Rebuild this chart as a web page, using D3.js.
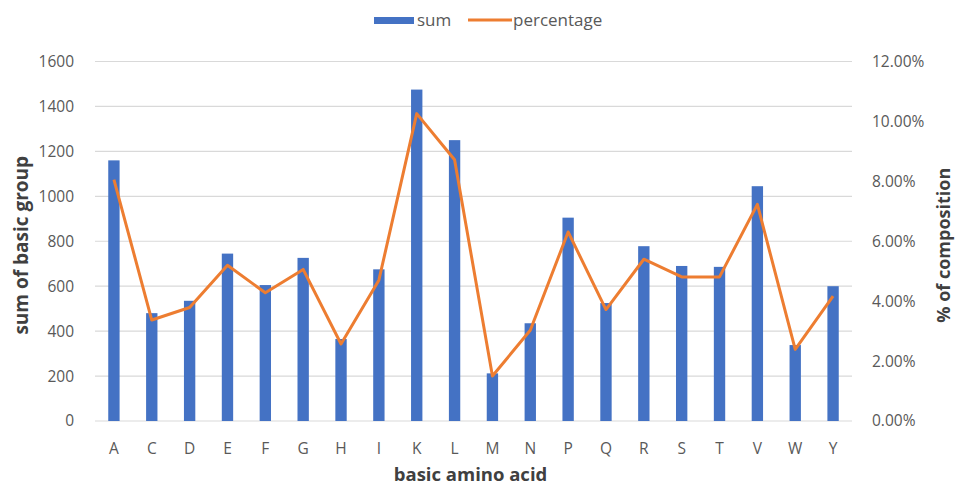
<!DOCTYPE html>
<html>
<head>
<meta charset="utf-8">
<script src="https://cdn.jsdelivr.net/npm/d3@7"></script>
<style>
  body { margin: 0; background: #fff; }
  svg text { font-family: "Open Sans", "Liberation Sans", sans-serif; }
  .axis path { display: none; }
  .axis line { stroke: none; }
  .axis text { fill: #595959; font-size: 15.5px; }
</style>
</head>
<body>
<div id="chart"></div>
<script>
// 資料
const acids = ['A','C','D','E','F','G','H','I','K','L','M','N','P','Q','R','S','T','V','W','Y'];
const sums = [1160, 480, 535, 745, 605, 726, 365, 675, 1475, 1250, 212, 435, 905, 525, 778, 690, 686, 1045, 338, 600];
const percents = [8.06, 3.37, 3.79, 5.2, 4.28, 5.06, 2.57, 4.7, 10.26, 8.72, 1.5, 3.03, 6.31, 3.72, 5.4, 4.81, 4.81, 7.23, 2.39, 4.17];
const leftTicks = [0, 200, 400, 600, 800, 1000, 1200, 1400, 1600];
const rightTicks = [0, 2, 4, 6, 8, 10, 12];

const svg_width = 957, svg_height = 488;
const margin = {top: 61.5, right: 105, bottom: 67, left: 95};
const chart_width = svg_width - margin.left - margin.right;
const chart_height = svg_height - margin.top - margin.bottom;

const svg = d3.select('#chart').append('svg')
  .attr('width', svg_width).attr('height', svg_height);
const g = svg.append('g').attr('transform', `translate(${margin.left},${margin.top})`);

const xScale = d3.scaleBand().domain(acids).range([0, chart_width]).paddingInner(0.7).paddingOuter(0.35);
const xPoint = d => xScale(d) + xScale.bandwidth() / 2;
const yLeft = d3.scaleLinear().domain([0, 1600]).range([chart_height, 0]);
const yRight = d3.scaleLinear().domain([0, 12]).range([chart_height, 0]);

// 格線
g.selectAll('.grid').data(leftTicks).enter().append('line')
  .attr('x1', 0).attr('x2', chart_width)
  .attr('y1', d => yLeft(d)).attr('y2', d => yLeft(d))
  .style('stroke', '#d9d9d9').style('stroke-width', 1.2);

// 長條
g.selectAll('.bar').data(acids).enter().append('rect')
  .attr('x', d => xScale(d))
  .attr('y', (d, i) => yLeft(sums[i]))
  .attr('width', xScale.bandwidth())
  .attr('height', (d, i) => chart_height - yLeft(sums[i]))
  .style('fill', '#4472C4');

// 折線
const line = d3.line().x((d, i) => xPoint(acids[i])).y(d => yRight(d));
g.append('path').datum(percents)
  .attr('d', line)
  .style('fill', 'none').style('stroke', '#ED7D31')
  .style('stroke-width', 3).style('stroke-linejoin', 'round');

// 軸
g.append('g').attr('class', 'axis')
  .attr('transform', `translate(-18,0)`)
  .call(d3.axisLeft(yLeft).tickValues(leftTicks).tickSize(0).tickFormat(d3.format('d')));

g.append('g').attr('class', 'axis')
  .attr('transform', `translate(${chart_width + 17},0)`)
  .call(d3.axisRight(yRight).tickValues(rightTicks).tickSize(0).tickFormat(d => d.toFixed(2) + '%'));

g.append('g').attr('class', 'axis')
  .attr('transform', `translate(0,${chart_height + 19})`)
  .call(d3.axisBottom(xScale).tickSize(0));

// 軸標題
svg.append('text').text('sum of basic group')
  .attr('transform', `translate(28,${margin.top + chart_height / 2 + 4}) rotate(-90)`)
  .attr('text-anchor', 'middle')
  .style('font-size', '19px').style('font-weight', 'bold').style('fill', '#404040');

svg.append('text').text('% of composition')
  .attr('transform', `translate(950,${margin.top + chart_height / 2 + 4}) rotate(-90)`)
  .attr('text-anchor', 'middle')
  .style('font-size', '18px').style('font-weight', 'bold').style('fill', '#404040');

svg.append('text').text('basic amino acid')
  .attr('x', margin.left + chart_width / 2 - 3).attr('y', 481)
  .attr('text-anchor', 'middle')
  .style('font-size', '18.5px').style('font-weight', 'bold').style('fill', '#404040');

// 圖例
const legend = svg.append('g').attr('transform', 'translate(374,20)');
legend.append('rect').attr('x', 0).attr('y', -3).attr('width', 40).attr('height', 7).style('fill', '#4472C4');
legend.append('text').text('sum').attr('x', 43).attr('y', 6)
  .style('font-size', '17px').style('fill', '#595959');
legend.append('line').attr('x1', 94).attr('x2', 138).attr('y1', 0).attr('y2', 0)
  .style('stroke', '#ED7D31').style('stroke-width', 3);
legend.append('text').text('percentage').attr('x', 139).attr('y', 6)
  .style('font-size', '17px').style('fill', '#595959');
</script>
</body>
</html>
